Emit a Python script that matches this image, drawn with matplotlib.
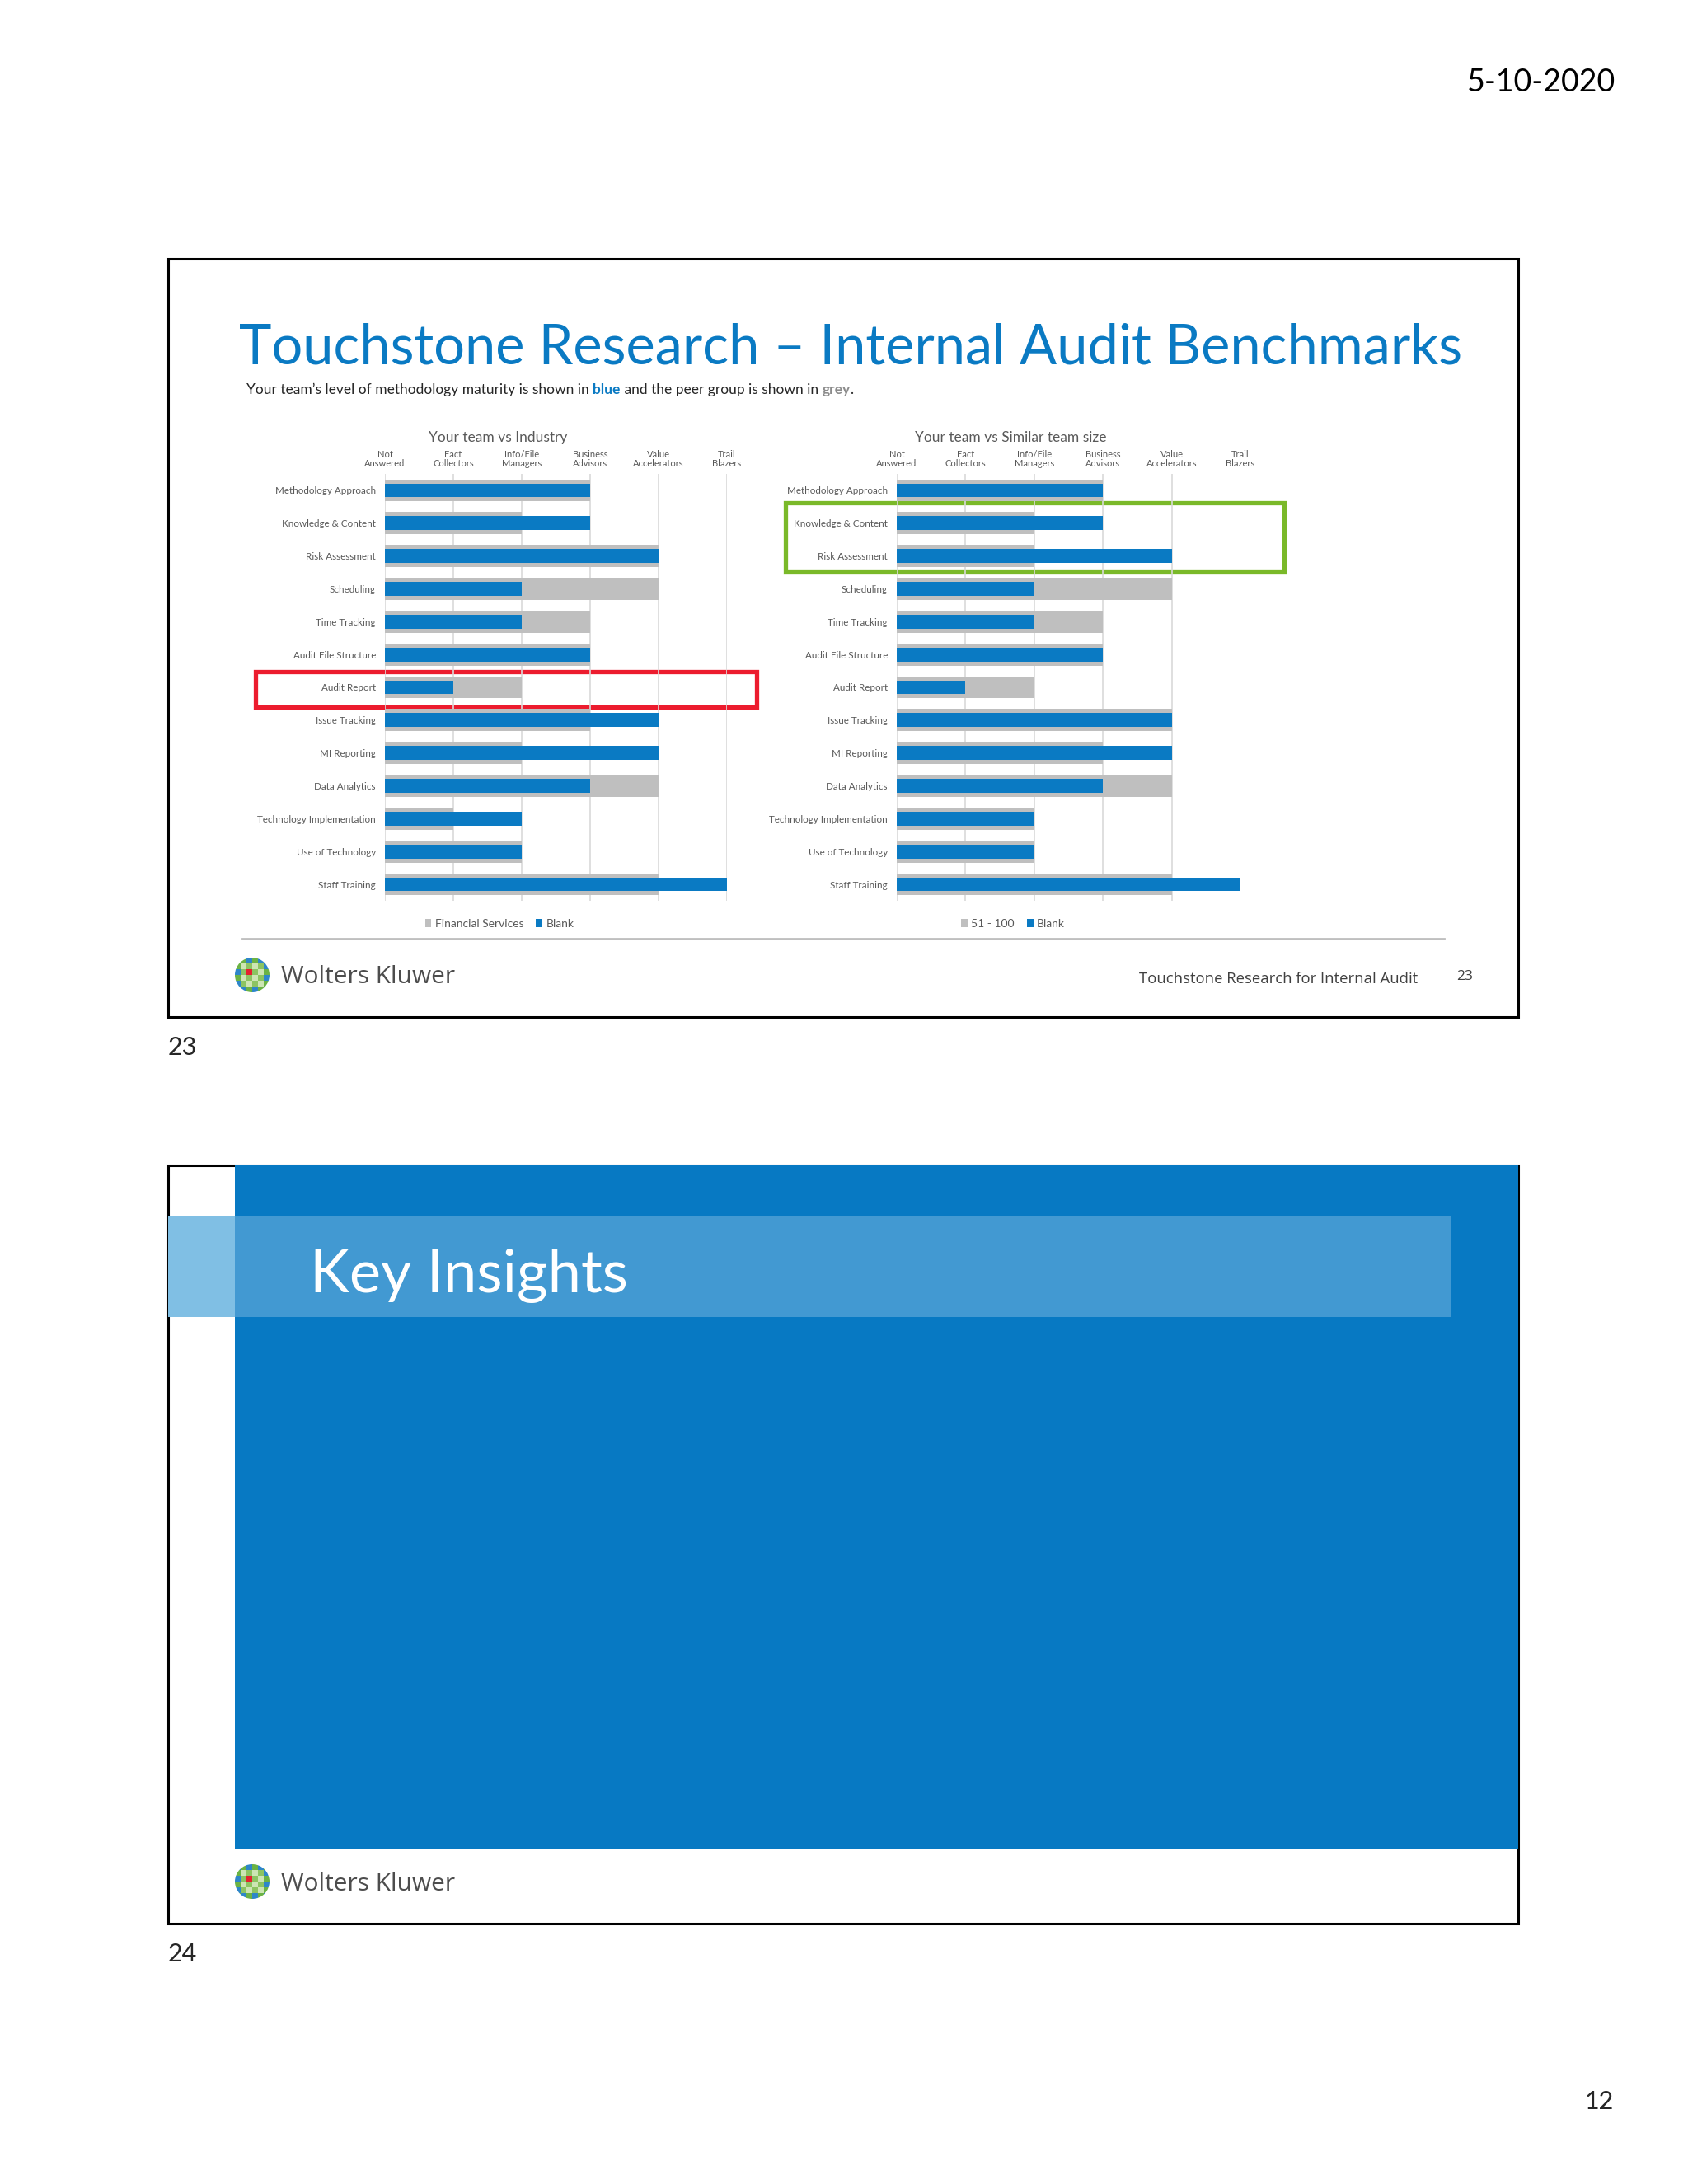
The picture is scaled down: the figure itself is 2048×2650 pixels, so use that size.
"""
Two slide page: Touchstone benchmark bar charts and the Key Insights slide.
"""

import matplotlib
matplotlib.use('Agg')
import matplotlib.pyplot as plt
from matplotlib.patches import Rectangle, Circle
from matplotlib.lines import Line2D

W, H = 2048, 2650

categories = ['Methodology Approach', 'Knowledge & Content', 'Risk Assessment',
              'Scheduling', 'Time Tracking', 'Audit File Structure', 'Audit Report',
              'Issue Tracking', 'MI Reporting', 'Data Analytics',
              'Technology Implementation', 'Use of Technology', 'Staff Training']
levels = ['Not\nAnswered', 'Fact\nCollectors', 'Info/File\nManagers',
          'Business\nAdvisors', 'Value\nAccelerators', 'Trail\nBlazers']

# maturity level reached (0 = Not Answered ... 5 = Trail Blazers)
industry_peer = [3, 2, 4, 4, 3, 3, 2, 3, 2, 4, 1, 2, 4]
industry_team = [3, 3, 4, 2, 2, 3, 1, 4, 4, 3, 2, 2, 5]
size_peer = [3, 2, 2, 4, 3, 3, 2, 4, 3, 4, 2, 2, 4]
size_team = [3, 3, 4, 2, 2, 3, 1, 4, 4, 3, 2, 2, 5]

BLUE = '#0A7AC3'
GREY = '#BFBFBF'
TXT = '#595959'
FONT = ['Lato', 'DejaVu Sans']

plt.rcParams['font.family'] = FONT

fig = plt.figure(figsize=(W / 100, H / 100), dpi=100)
renderer = fig.canvas.get_renderer()


def rect(x0, y0, x1, y1):
    return [x0 / W, 1 - y1 / H, (x1 - x0) / W, (y1 - y0) / H]


def ftext(x, y, s, **kw):
    return fig.text(x / W, 1 - y / H, s, **kw)


def fit(t, width):
    # scale the font so the text spans the given pixel width
    w = t.get_window_extent(renderer=renderer).width
    t.set_fontsize(t.get_fontsize() * width / w)


# page background in pixel coordinates
bg = fig.add_axes([0, 0, 1, 1])
bg.set_xlim(0, W)
bg.set_ylim(H, 0)
bg.axis('off')

# ---- slide 23 ----
bg.add_patch(Rectangle((204, 314), 1638, 920, fc='white', ec='black', lw=2.2))

t = ftext(290, 442, 'Touchstone Research \u2013 Internal Audit Benchmarks',
          color=BLUE, fontsize=56, va='baseline')
fit(t, 1485)

# subtitle with coloured words
parts = [("Your team\u2019s level of methodology maturity is shown in ", '#262626', 'normal'),
         ('blue', BLUE, 'bold'),
         (' and the peer group is shown in ', '#262626', 'normal'),
         ('grey', '#8C8C8C', 'bold'),
         ('.', '#262626', 'normal')]
x = 299
for s, c, wgt in parts:
    t = ftext(x, 473, s, color=c, fontsize=12.5, fontweight=wgt, va='center')
    x += t.get_window_extent(renderer=renderer).width


def bench_chart(x0, x1, peer, team, title, title_x, peer_name, legend_x):
    ax = fig.add_axes(rect(x0, 575, x1, 1093))
    ypos = list(range(len(categories)))
    ax.barh(ypos, peer, height=0.67, color=GREY, label=peer_name, zorder=2)
    ax.barh(ypos, team, height=0.42, color=BLUE, label='Blank', zorder=3)
    ax.set_xlim(0, 5)
    ax.set_ylim(len(categories) - 0.5, -0.5)
    ax.set_xticks(range(len(levels)))
    ax.set_xticklabels(levels, fontsize=8, color=TXT, linespacing=1.05)
    ax.xaxis.tick_top()
    ax.set_yticks(ypos)
    ax.set_yticklabels(categories, fontsize=8.4, color=TXT)
    ax.tick_params(axis='both', length=0)
    ax.tick_params(axis='y', pad=8)
    ax.tick_params(axis='x', pad=5)
    ax.grid(axis='x', color='#D9D9D9', lw=1.2, zorder=0)
    ax.set_axisbelow(True)
    for sp in ax.spines.values():
        sp.set_visible(False)
    ax.patch.set_alpha(0)
    ftext(title_x, 531, title, fontsize=12.5, color=TXT, ha='center', va='center')
    leg = ax.legend(loc='center', bbox_to_anchor=(legend_x / W, 1 - 1121 / H),
                    bbox_transform=fig.transFigure, ncol=2, frameon=False,
                    fontsize=10, handlelength=0.55, handleheight=0.7,
                    handletextpad=0.3, columnspacing=1.1)
    for tx in leg.get_texts():
        tx.set_color(TXT)
    return ax


bench_chart(467, 882, industry_peer, industry_team, 'Your team vs Industry', 604,
            'Financial Services', 606)
bench_chart(1088, 1505, size_peer, size_team, 'Your team vs Similar team size', 1226,
            '51 - 100', 1229)

# highlight boxes
bg.add_patch(Rectangle((310, 815), 608, 43, fill=False, ec='#EC1C2E', lw=3.8, zorder=5))
bg.add_patch(Rectangle((953, 610), 605, 84, fill=False, ec='#7AB929', lw=3.8, zorder=5))

# separator
bg.add_line(Line2D([294, 1752], [1139, 1139], color='#BFBFBF', lw=2))


def logo(cx, cy, r=21):
    clip = Circle((cx, cy), r, transform=bg.transData)
    n = 6
    s = 2 * r / n
    for i in range(n):
        for j in range(n):
            d = max(abs(i - 2.5), abs(j - 2.5))
            if i == 2 and j == 2:
                c = '#E5202E'
            elif d <= 1.5 and (i + j) % 2 == 0:
                c = '#CDE5B4'
            elif d <= 1.5:
                c = '#8CC461'
            elif (i + j) % 2 == 0:
                c = '#2E86C9'
            else:
                c = '#6BB344'
            p = Rectangle((cx - r + j * s, cy - r + i * s), s, s, fc=c, ec='none')
            bg.add_patch(p)
            p.set_clip_path(clip)
    ftext(341, cy + 3, 'Wolters Kluwer', fontsize=21.5, color='#4D4D4D', va='center',
          family=['Open Sans', 'DejaVu Sans'])


logo(306, 1183)
ftext(1382, 1188, 'Touchstone Research for Internal Audit', fontsize=13.3,
      color='#404040', va='center', family=['Open Sans', 'DejaVu Sans'])
ftext(1767, 1185, '23', fontsize=12.5, color='#404040', va='center',
      family=['Open Sans', 'DejaVu Sans'])

# ---- slide 24 ----
bg.add_patch(Rectangle((204, 1414), 1638, 920, fc='white', ec='black', lw=2.2, zorder=1))
bg.add_patch(Rectangle((285, 1414), 1557, 830, fc='#0779C3', ec='none', zorder=2))
bg.add_patch(Rectangle((204, 1475), 81, 123, fc='#80BFE4', ec='none', zorder=3))
bg.add_patch(Rectangle((285, 1475), 1476, 123, fc='#4299D2', ec='none', zorder=3))
ftext(376, 1568, 'Key Insights', fontsize=52, color='white', va='baseline')
logo(306, 2283)

# page furniture
ftext(1960, 100, '5-10-2020', fontsize=27, color='black', ha='right', va='center')
ftext(204, 1271, '23', fontsize=22, color='#262626', va='center')
ftext(204, 2371, '24', fontsize=22, color='#262626', va='center')
ftext(1958, 2550, '12', fontsize=22, color='#262626', ha='right', va='center')

fig.savefig('out.png', dpi=100, facecolor='white')
